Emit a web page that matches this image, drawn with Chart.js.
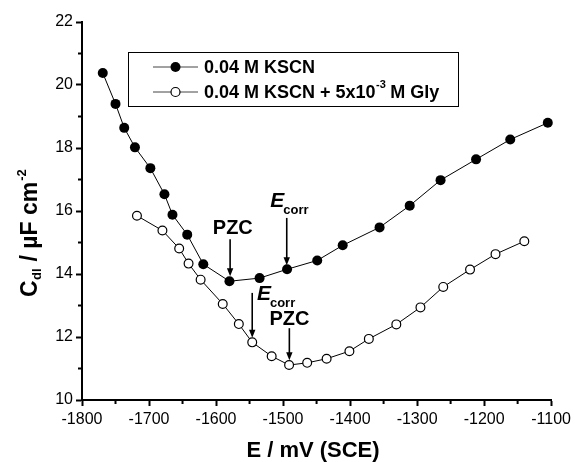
<!DOCTYPE html>
<html>
<head>
<meta charset="utf-8">
<script src="https://cdn.jsdelivr.net/npm/chart.js@4.4.1/dist/chart.umd.min.js"></script>
<style>
  html, body { margin: 0; padding: 0; background: #fff; }
  #wrap { width: 575px; height: 462px; }
</style>
</head>
<body>
<div id="wrap"><canvas id="chart"></canvas></div>
<script>
// E / mV (SCE) and Cdl / uF cm-2
const potKSCN = [-1769, -1750, -1737, -1721, -1698, -1677, -1665, -1643, -1619, -1580,
                 -1535, -1494, -1449, -1411, -1356, -1311, -1265, -1212, -1161, -1105];
const cdlKSCN = [20.38, 19.40, 18.64, 18.02, 17.36, 16.53, 15.88, 15.25, 14.31, 13.77,
                 13.87, 14.15, 14.43, 14.91, 15.48, 16.17, 16.98, 17.64, 18.27, 18.80];

const potGly = [-1718, -1680, -1655, -1641, -1623, -1590, -1566, -1546, -1517, -1491,
                -1464, -1435, -1401, -1372, -1331, -1295, -1261, -1221, -1183, -1140];
const cdlGly = [15.85, 15.38, 14.81, 14.33, 13.82, 13.05, 12.41, 11.83, 11.39, 11.11,
                11.18, 11.31, 11.55, 11.94, 12.40, 12.94, 13.59, 14.14, 14.63, 15.04];

const legendLabels = ["0.04 M KSCN", "0.04 M KSCN + 5x10", "-3", " M Gly"];

// arrows: x, from y, to y (data units)
const arrows = [
    { x: -1579, y1: 15.10, y2: 13.93 },
    { x: -1494.5, y1: 15.78, y2: 14.28 },
    { x: -1546, y1: 13.40, y2: 11.98 },
    { x: -1490.6, y1: 12.28, y2: 11.26 }
];
// labels: kind, x, baseline y (data units)
const marks = [
    { kind: "pzc", x: -1575, y: 15.27 },
    { kind: "ecorr", x: -1519, y: 16.13 },
    { kind: "ecorr", x: -1539, y: 13.17 },
    { kind: "pzc", x: -1490.5, y: 12.37 }
];

const FONT = "'Liberation Sans', Arial, sans-serif";

function toPoints(xs, ys) {
    return xs.map(function (x, i) { return { x: x, y: ys[i] }; });
}

const decorPlugin = {
    id: "decor",
    afterDraw: function (chart) {
        const ctx = chart.ctx;
        const xs = chart.scales.x;
        const ys = chart.scales.y;
        const area = chart.chartArea;
        ctx.save();
        ctx.strokeStyle = "#000";
        ctx.fillStyle = "#000";

        // minor ticks
        ctx.lineWidth = 2;
        for (let v = 11; v < 22; v += 2) {
            const py = ys.getPixelForValue(v);
            ctx.beginPath();
            ctx.moveTo(area.left - 4, py);
            ctx.lineTo(area.left, py);
            ctx.stroke();
        }
        for (let v = -1750; v < -1100; v += 100) {
            const px = xs.getPixelForValue(v);
            ctx.beginPath();
            ctx.moveTo(px, area.bottom);
            ctx.lineTo(px, area.bottom + 4);
            ctx.stroke();
        }

        // arrows
        arrows.forEach(function (a) {
            const px = xs.getPixelForValue(a.x);
            const p1 = ys.getPixelForValue(a.y1);
            const p2 = ys.getPixelForValue(a.y2);
            ctx.lineWidth = 1.6;
            ctx.beginPath();
            ctx.moveTo(px, p1);
            ctx.lineTo(px, p2 - 6);
            ctx.stroke();
            ctx.beginPath();
            ctx.moveTo(px - 3.2, p2 - 8);
            ctx.lineTo(px + 3.2, p2 - 8);
            ctx.lineTo(px, p2);
            ctx.closePath();
            ctx.fill();
        });

        // PZC / Ecorr labels
        ctx.textBaseline = "alphabetic";
        marks.forEach(function (m) {
            const px = xs.getPixelForValue(m.x);
            const py = ys.getPixelForValue(m.y);
            if (m.kind === "pzc") {
                ctx.font = "bold 20px " + FONT;
                ctx.textAlign = "center";
                ctx.fillText("PZC", px, py);
            } else {
                ctx.textAlign = "left";
                ctx.font = "italic bold 21px " + FONT;
                ctx.fillText("E", px, py);
                const w = ctx.measureText("E").width;
                ctx.font = "bold 13px " + FONT;
                ctx.fillText("corr", px + w - 1, py + 7);
            }
        });

        // legend
        ctx.lineWidth = 1;
        ctx.strokeRect(128.5, 52.5, 330, 54);
        const rows = [67, 92];
        ctx.strokeStyle = "#444";
        rows.forEach(function (ry) {
            ctx.beginPath();
            ctx.moveTo(153, ry);
            ctx.lineTo(198, ry);
            ctx.stroke();
        });
        ctx.strokeStyle = "#000";
        ctx.beginPath();
        ctx.arc(175.5, rows[0], 5, 0, Math.PI * 2);
        ctx.fill();
        ctx.beginPath();
        ctx.fillStyle = "#fff";
        ctx.lineWidth = 1.2;
        ctx.arc(175.5, rows[1], 4.5, 0, Math.PI * 2);
        ctx.fill();
        ctx.stroke();
        ctx.fillStyle = "#000";
        ctx.textAlign = "left";
        ctx.textBaseline = "middle";
        ctx.font = "bold 18px " + FONT;
        ctx.fillText(legendLabels[0], 204, rows[0] + 1);
        let tx = 204;
        ctx.fillText(legendLabels[1], tx, rows[1] + 1);
        tx += ctx.measureText(legendLabels[1]).width;
        ctx.font = "bold 11px " + FONT;
        ctx.fillText(legendLabels[2], tx + 0.5, rows[1] - 7);
        tx += ctx.measureText(legendLabels[2]).width;
        ctx.font = "bold 18px " + FONT;
        ctx.fillText(legendLabels[3], tx, rows[1] + 1);

        // x axis title
        ctx.textAlign = "center";
        ctx.textBaseline = "alphabetic";
        ctx.font = "bold 22px " + FONT;
        ctx.fillText("E / mV (SCE)", 313, 457);

        // y axis title (rotated)
        ctx.translate(37, 297);
        ctx.rotate(-Math.PI / 2);
        ctx.textAlign = "left";
        let ox = 0;
        ctx.font = "bold 23px " + FONT;
        ctx.fillText("C", ox, 0);
        ox += ctx.measureText("C").width;
        ctx.font = "bold 13px " + FONT;
        ctx.fillText("dl", ox + 0.5, 4);
        ox += ctx.measureText("dl").width + 1;
        ctx.font = "bold 23px " + FONT;
        ctx.fillText(" / \u00b5F cm", ox, 0);
        ox += ctx.measureText(" / \u00b5F cm").width;
        ctx.font = "bold 13px " + FONT;
        ctx.fillText("-2", ox + 1, -11);
        ctx.restore();
    }
};

const chart = new Chart(document.getElementById("chart"), {
    type: "scatter",
    data: {
        datasets: [{
            label: legendLabels[0],
            data: toPoints(potKSCN, cdlKSCN),
            showLine: true,
            borderColor: "#000",
            borderWidth: 1,
            pointRadius: 5,
            pointBackgroundColor: "#000",
            pointBorderColor: "#000",
            pointBorderWidth: 0,
            clip: false
        }, {
            label: "0.04 M KSCN + 5x10-3 M Gly",
            data: toPoints(potGly, cdlGly),
            showLine: true,
            borderColor: "#000",
            borderWidth: 1,
            pointRadius: 4.4,
            pointBackgroundColor: "#fff",
            pointBorderColor: "#000",
            pointBorderWidth: 1.2,
            clip: false
        }]
    },
    options: {
        responsive: true,
        maintainAspectRatio: false,
        animation: false,
        layout: { padding: { top: 22, right: 21, left: 0, bottom: 0 } },
        plugins: {
            legend: { display: false },
            tooltip: { enabled: false }
        },
        scales: {
            x: {
                type: "linear",
                min: -1800,
                max: -1100,
                afterFit: function (s) { s.height = 62; },
                ticks: {
                    stepSize: 100,
                    maxRotation: 0,
                    autoSkip: false,
                    padding: 4,
                    color: "#000",
                    font: { family: FONT, size: 16 },
                    callback: function (v) { return String(v); }
                },
                grid: {
                    drawOnChartArea: false,
                    drawTicks: true,
                    tickLength: 6,
                    tickWidth: 2,
                    tickColor: "#000"
                },
                border: { display: true, color: "#000", width: 2 }
            },
            y: {
                type: "linear",
                min: 10,
                max: 22,
                afterFit: function (s) { s.width = 82; },
                ticks: {
                    stepSize: 2,
                    padding: 3,
                    color: "#000",
                    font: { family: FONT, size: 16 },
                    callback: function (v) { return String(v); }
                },
                grid: {
                    drawOnChartArea: false,
                    drawTicks: true,
                    tickLength: 6,
                    tickWidth: 2,
                    tickColor: "#000"
                },
                border: { display: true, color: "#000", width: 2 }
            }
        }
    },
    plugins: [decorPlugin]
});
</script>
</body>
</html>
